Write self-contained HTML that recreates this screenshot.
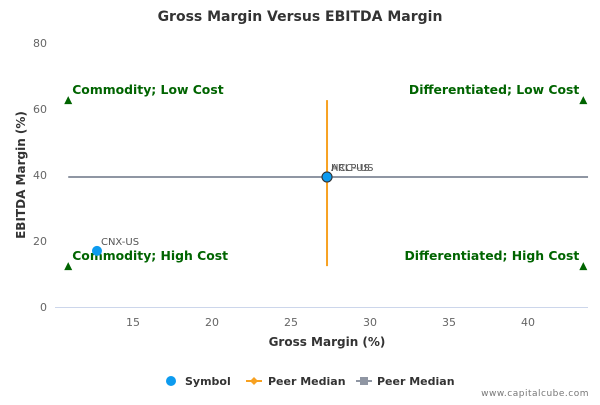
<!DOCTYPE html>
<html><head><meta charset="utf-8"><style>
body{margin:0;background:#fff;font-family:"Liberation Sans","DejaVu Sans",sans-serif;}
svg text{font-family:"DejaVu Sans","Liberation Sans",sans-serif;}
</style></head><body>
<svg id="c" width="600" height="400" xmlns="http://www.w3.org/2000/svg"></svg>
<script>
const xTicks=[15,20,25,30,35,40];
const yTicks=[0,20,40,60,80];
const symbolNames=["CNX-US","ARLP-US","HCC-US"];
const symbolX=[12.72,27.28,27.28];
const symbolY=[17,39.4,39.4];
const peerMedianX=27.28;
const peerMedianY=39.4;
const vLineY=[12.4,62.7];
const hLineX=[10.9,43.8];
const quadLabels=["Commodity; Low Cost","Differentiated; Low Cost","Commodity; High Cost","Differentiated; High Cost"];
const quadX=[10.9,43.5,10.9,43.5];
const quadY=[62.7,62.7,12.4,12.4];

const X=v=>133+(v-15)*15.8;
const Y=v=>307-v*3.3;
const svg=document.getElementById('c');
function el(t,a,txt){const e=document.createElementNS('http://www.w3.org/2000/svg',t);for(const k in a)e.setAttribute(k,a[k]);if(txt!==undefined)e.textContent=txt;svg.appendChild(e);return e;}
let e;
e=el('text',{x:300,y:21,'text-anchor':'middle','font-size':14,'font-weight':'bold',fill:'#333'},'Gross Margin Versus EBITDA Margin');


e=el('line',{x1:55,x2:588,y1:307.5,y2:307.5,stroke:'#ccd6eb'});


xTicks.forEach(t=>{
 e=el('text',{x:X(t),y:326,'text-anchor':'middle','font-size':11,fill:'#666'},t);
 
 
});
yTicks.forEach(t=>{
 e=el('text',{x:47,y:Y(t)+4,'text-anchor':'end','font-size':11,fill:'#666'},t);
 
 
});
e=el('text',{x:327,y:346,'text-anchor':'middle','font-size':12,'font-weight':'bold',fill:'#333'},'Gross Margin (%)');


e=el('text',{x:0,y:0,transform:'translate(25,175) rotate(-90)','text-anchor':'middle','font-size':12,'font-weight':'bold',fill:'#333'},'EBITDA Margin (%)');


e=el('line',{x1:X(hLineX[0]),x2:X(hLineX[1]),y1:Y(peerMedianY),y2:Y(peerMedianY),stroke:'#8f96a3','stroke-width':2});


e=el('line',{x1:X(peerMedianX),x2:X(peerMedianX),y1:Y(vLineY[0]),y2:Y(vLineY[1]),stroke:'#f7a121','stroke-width':2});


quadLabels.forEach((l,i)=>{
 const x=X(quadX[i]),y=Y(quadY[i]);
 e=el('path',{d:`M${x-4},${y+4}L${x+4},${y+4}L${x},${y-4}Z`,fill:'#006400'});
 
 
 const left=i%2==0;
 e=el('text',{x:left?x+4:x-4,y:y-6,'text-anchor':left?'start':'end','font-size':12.4,'font-weight':'bold',fill:'#006400'},l);
 
 
});
symbolNames.forEach((n,i)=>{
 const x=X(symbolX[i]),y=Y(symbolY[i]);
 e=el('circle',{cx:x,cy:y,r:5,fill:'#0d9bef',stroke:i>0?'#333':'none','stroke-width':1});
 
 
 e=el('text',{x:x+4,y:y-6,'font-size':10,fill:'#555'},n);
 
 
});
// legend
e=el('circle',{cx:171,cy:381,r:5,fill:'#0d9bef'});


e=el('text',{x:185,y:385,'font-size':11,'font-weight':'bold',fill:'#333'},'Symbol');


e=el('line',{x1:246,x2:262,y1:381,y2:381,stroke:'#f7a121','stroke-width':2});


e=el('path',{d:'M254,377L258,381L254,385L250,381Z',fill:'#f7a121'});


e=el('text',{x:268,y:385,'font-size':11,'font-weight':'bold',fill:'#333'},'Peer Median');


e=el('line',{x1:356,x2:372,y1:381,y2:381,stroke:'#8f96a3','stroke-width':2});


e=el('rect',{x:360,y:377,width:8,height:8,fill:'#8f96a3'});


e=el('text',{x:377,y:385,'font-size':11,'font-weight':'bold',fill:'#333'},'Peer Median');


e=el('text',{x:589,y:396,'text-anchor':'end','font-size':9,fill:'#777','letter-spacing':'0.5'},'www.capitalcube.com');


</script>
</body></html>
